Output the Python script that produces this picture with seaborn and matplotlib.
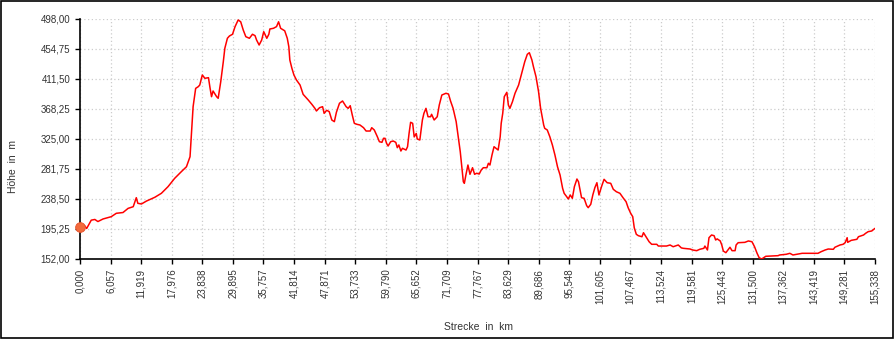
import matplotlib
matplotlib.use("Agg")
import matplotlib.pyplot as plt
import seaborn as sns
import pandas as pd
from matplotlib.patches import Rectangle

# distance (km) and elevation (m)
strecke_km = [
    0.0, 0.9, 1.3, 2.2, 2.9, 3.5, 4.5, 6.1, 7.1, 8.4, 9.4, 10.4, 11.0, 11.3, 12.0, 13.0,
    14.6, 15.9, 17.2, 18.5, 19.8, 20.8, 21.5, 21.8, 22.1, 22.6, 23.1, 23.4, 23.9, 24.4,
    25.1, 25.4, 25.7, 26.0, 26.7, 27.0, 27.5, 28.0, 28.3, 28.8, 29.2, 29.8, 30.3, 30.9,
    31.4, 31.9, 32.4, 33.1, 33.7, 34.2, 34.5, 35.0, 35.5, 35.9, 36.5, 36.9, 37.1, 37.8,
    38.4, 38.8, 39.2, 40.0, 40.5, 40.8, 41.0, 41.4, 41.8, 42.3, 43.0, 43.6, 44.6, 45.3,
    45.9, 46.2, 46.8, 47.4, 47.7, 48.2, 48.7, 49.2, 49.7, 50.1, 50.7, 51.3, 52.0, 52.4,
    52.8, 53.2, 53.6, 54.1, 54.7, 55.4, 55.9, 56.7, 57.0, 57.5, 58.1, 58.5, 59.0, 59.3,
    59.6, 59.9, 60.2, 60.7, 61.2, 61.7, 62.0, 62.3, 62.7, 63.0, 63.7, 64.0, 64.3, 64.6,
    65.0, 65.3, 65.7, 65.9, 66.4, 66.9, 67.2, 67.6, 68.0, 68.5, 68.7, 69.2, 69.8, 70.2,
    70.7, 71.5, 72.0, 72.4, 72.9, 73.5, 73.9, 74.3, 74.6, 74.9, 75.1, 75.4, 75.8, 76.2,
    76.7, 77.1, 77.5, 78.0, 78.4, 78.8, 79.5, 79.8, 80.1, 80.5, 80.9, 81.3, 81.7, 82.1,
    82.3, 82.6, 82.9, 83.4, 83.7, 84.0, 84.5, 85.0, 85.7, 86.3, 86.9, 87.4, 87.8, 88.3,
    88.6, 89.1, 89.6, 90.0, 90.6, 90.8, 91.3, 91.8, 92.3, 92.8, 93.3, 93.8, 94.3, 94.6,
    95.1, 95.4, 95.8, 96.2, 96.6, 97.1, 97.4, 97.7, 98.0, 98.5, 99.0, 99.3, 99.8, 100.2,
    100.6, 101.0, 101.4, 101.9, 102.4, 103.0, 103.7, 104.2, 104.8, 105.5, 106.1, 106.7,
    107.1, 107.6, 108.0, 108.3, 108.7, 109.1, 109.8, 110.1, 110.6, 111.2, 111.7, 112.7,
    113.0, 114.6, 115.3, 115.9, 116.9, 117.5, 117.9, 119.2, 119.7, 120.5, 121.1, 121.9,
    122.1, 122.6, 122.9, 123.4, 123.9, 124.2, 124.5, 125.1, 125.4, 125.7, 126.2, 126.6,
    127.0, 127.4, 128.0, 128.2, 128.6, 129.9, 130.6, 131.3, 131.8, 132.3, 132.7, 133.2,
    134.0, 136.4, 136.7, 138.0, 138.7, 139.3, 141.1, 142.9, 144.2, 144.8, 145.6, 146.2,
    147.2, 147.5, 148.5, 149.1, 149.5, 149.9, 150.0, 150.7, 151.8, 152.1, 153.1, 153.5,
    154.0, 154.7, 155.338,
]
hoehe_m = [
    198.0, 200.0, 196.0, 208.0, 209.0, 206.0, 209.7, 213.0, 217.9, 219.0, 225.0, 227.4, 240.4, 232.3, 231.3, 235.6,
    240.9, 246.7, 256.3, 268.3, 277.9, 285.0, 299.5, 335.0, 371.6, 398.0, 400.4, 402.8, 417.3, 412.5,
    413.4, 399.0, 386.0, 394.2, 386.0, 383.7, 407.6, 436.4, 455.8, 470.2, 473.5, 476.0, 487.0, 496.6,
    494.0, 482.0, 472.5, 470.2, 476.0, 474.0, 467.7, 460.5, 467.7, 479.7, 470.2, 476.0, 483.6, 484.6,
    487.0, 494.0, 484.6, 481.0, 470.2, 458.2, 438.9, 427.0, 417.3, 410.0, 402.8, 389.4, 381.2, 375.0,
    369.2, 365.4, 370.1, 371.6, 362.0, 366.4, 364.4, 352.4, 350.0, 363.5, 376.5, 379.8, 371.6, 369.2,
    373.0, 359.6, 347.6, 346.2, 345.2, 341.3, 336.5, 336.5, 341.3, 338.0, 328.3, 321.1, 320.2, 326.0,
    326.0, 318.8, 314.9, 321.1, 322.1, 320.2, 312.5, 316.4, 307.7, 311.6, 309.1, 313.9, 333.2, 349.1,
    347.6, 328.0, 333.0, 325.0, 323.6, 352.4, 362.0, 369.2, 357.1, 357.1, 360.6, 352.4, 357.1, 374.0,
    388.4, 390.9, 389.9, 379.8, 369.2, 350.0, 328.3, 306.7, 285.0, 263.4, 261.1, 273.1, 287.5, 274.1,
    283.6, 274.1, 275.6, 274.5, 280.3, 283.6, 283.6, 290.0, 287.5, 301.9, 313.9, 311.6, 309.1, 328.3,
    347.6, 362.0, 386.0, 392.3, 374.0, 369.2, 378.8, 390.9, 402.8, 419.7, 436.4, 447.1, 449.4, 438.9,
    429.2, 414.8, 393.2, 369.2, 345.2, 340.4, 338.0, 328.3, 316.4, 301.9, 285.0, 273.1, 253.9, 246.7,
    241.8, 238.5, 244.3, 239.5, 256.3, 267.3, 263.4, 251.5, 240.4, 239.5, 228.9, 226.0, 230.9, 244.3,
    254.8, 262.0, 244.3, 256.3, 266.9, 262.0, 261.1, 252.5, 249.0, 246.7, 240.4, 234.6,
    226.0, 217.9, 213.0, 197.0, 187.6, 185.6, 184.1, 189.9, 184.1, 176.9, 173.2, 173.2,
    170.7, 170.7, 172.2, 169.7, 172.2, 168.0, 167.4, 166.4, 165.0, 164.0, 166.0, 167.4,
    170.7, 165.0, 182.7, 186.6, 185.6, 179.4, 181.0, 178.0, 172.2, 163.5, 161.1, 165.0,
    168.9, 164.0, 164.0, 172.2, 175.5, 176.0, 178.0, 176.9, 169.7, 160.2, 153.9, 152.0,
    155.9, 156.8, 157.8, 158.8, 160.2, 157.8, 160.2, 160.2, 160.2, 162.5, 165.0, 166.4,
    166.0, 168.9, 172.2, 173.2, 175.5, 182.7, 176.0, 178.9, 180.4, 184.1, 186.6, 189.0,
    191.4, 192.4, 196.2,
]
x_tick_values = [0.000, 6.057, 11.919, 17.976, 23.838, 29.895, 35.757, 41.814, 47.871,
                 53.733, 59.790, 65.652, 71.709, 77.767, 83.629, 89.686, 95.548, 101.605,
                 107.467, 113.524, 119.581, 125.443, 131.500, 137.362, 143.419, 149.281, 155.338]
y_tick_values = [152.00, 195.25, 238.50, 281.75, 325.00, 368.25, 411.50, 454.75, 498.00]

df = pd.DataFrame({"km": strecke_km, "m": hoehe_m})

sns.set_theme(style="white")
plt.rcParams["font.family"] = ["Liberation Sans", "DejaVu Sans"]

fig = plt.figure(figsize=(8.94, 3.39), dpi=100)
ax = fig.add_axes([80 / 894, 80 / 339, 795 / 894, 240 / 339])

sns.lineplot(data=df, x="km", y="m", ax=ax, color="#ff0000", linewidth=1.1,
             sort=False, estimator=None, zorder=3)
ax.plot([strecke_km[0]], [hoehe_m[0]], marker="o", markersize=7, color="#f26a3c",
        markeredgecolor="#e8502a", markeredgewidth=0.6, clip_on=False, zorder=5)

ax.set_xlim(x_tick_values[0], x_tick_values[-1])
ax.set_ylim(y_tick_values[0], y_tick_values[-1])
ax.set_xticks(x_tick_values)
ax.set_xticklabels([f"{v:.3f}".replace(".", ",") for v in x_tick_values], rotation=90)
ax.set_yticks(y_tick_values)
ax.set_yticklabels([f"{v:.2f}".replace(".", ",") for v in y_tick_values])

ax.grid(True, color="#cccccc", linestyle=(0, (1, 2)), linewidth=0.9)
ax.set_axisbelow(True)
for s in ["top", "right"]:
    ax.spines[s].set_visible(False)
for s in ["left", "bottom"]:
    ax.spines[s].set_color("black")
    ax.spines[s].set_linewidth(1.2)
ax.tick_params(axis="both", which="major", direction="out", length=3.5, width=1,
               color="black", labelsize=7, labelcolor="#333333", pad=3.5,
               left=True, bottom=True)
ax.set_xlabel("")
ax.set_ylabel("")

fig.text(478 / 894, 1 - 327 / 339, "Strecke  in  km", ha="center", va="center",
         fontsize=7.5, color="#333333")
fig.text(13 / 894, 1 - 167 / 339, "Höhe  in  m", ha="center", va="center",
         rotation=90, fontsize=7.5, color="#333333")

fig.patches.append(Rectangle((0.0006, 0.0015), 0.9988, 0.997, transform=fig.transFigure,
                             fill=False, edgecolor="black", linewidth=1.2))

fig.savefig("out.png", dpi=100)
